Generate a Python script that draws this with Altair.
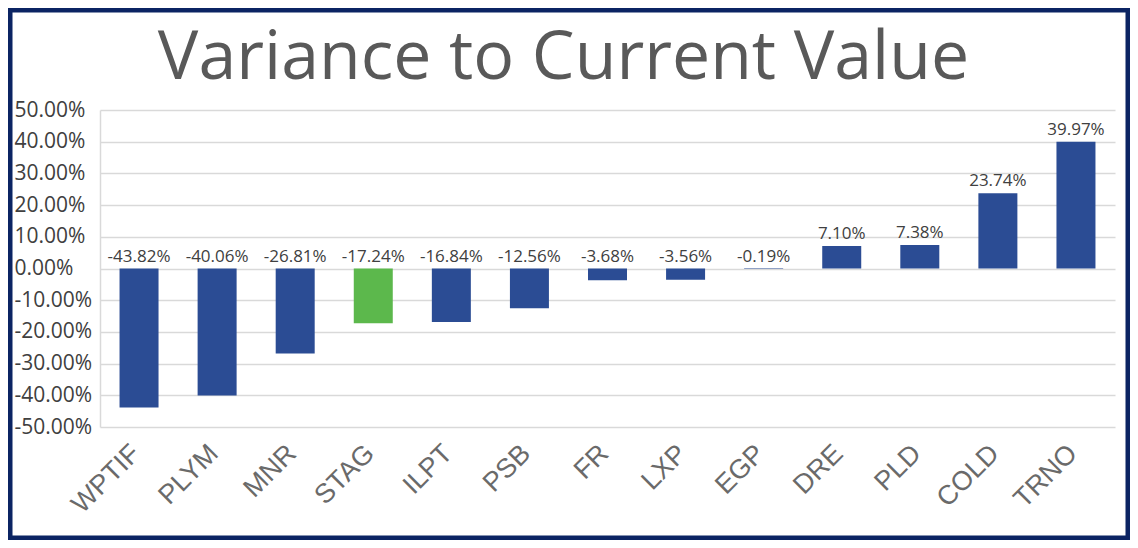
import altair as alt
import pandas as pd

tickers = ["WPTIF", "PLYM", "MNR", "STAG", "ILPT", "PSB", "FR", "LXP", "EGP", "DRE", "PLD", "COLD", "TRNO"]
variance = [-0.4382, -0.4006, -0.2681, -0.1724, -0.1684, -0.1256, -0.0368, -0.0356, -0.0019, 0.0710, 0.0738, 0.2374, 0.3997]
highlight = ["no", "no", "no", "yes", "no", "no", "no", "no", "no", "no", "no", "no", "no"]
y_ticks = [-0.5, -0.4, -0.3, -0.2, -0.1, 0.0, 0.1, 0.2, 0.3, 0.4, 0.5]
title_text = ["Variance to Current Value"]

df = pd.DataFrame({"ticker": tickers, "variance": variance, "highlight": highlight})

FONT = "Open Sans"

x_enc = alt.X(
    "ticker:N", sort=tickers, title=None,
    scale=alt.Scale(paddingInner=0.5, paddingOuter=0.25),
    axis=alt.Axis(labelAngle=-45, labelAlign="right", labelBaseline="middle",
                  labelFontSize=27, labelFont="Liberation Sans", labelColor="#6A6A6A",
                  labelPadding=22, labelOffset=-3, ticks=False, domain=False, grid=False),
)

y_scale = alt.Scale(domain=[-0.5, 0.5], nice=False, zero=False)
y_axis = alt.Axis(values=y_ticks, labelExpr="replace(format(datum.value, '.2%'), '\u2212', '-')",
                  labelFontSize=21, labelFont=FONT, labelOverlap=False, labelAlign="left",
                  labelColor="#404040", ticks=False, domain=True, domainColor="#D9D9D9",
                  domainWidth=1.5, grid=True, gridColor="#D9D9D9", gridWidth=1.5,
                  labelPadding=86)

bars = alt.Chart(df).mark_bar(size=39).encode(
    x=x_enc,
    y=alt.Y("variance:Q", title=None, scale=y_scale, axis=y_axis),
    color=alt.Color("highlight:N", scale=alt.Scale(domain=["no", "yes"], range=["#2B4C94", "#5CB84C"]), legend=None),
)

labels = alt.Chart(df).transform_calculate(
    ly="max(datum.variance, 0)",
    lbl="replace(format(datum.variance, '.2%'), '\u2212', '-')",
).mark_text(dy=-7, fontSize=17, font=FONT, color="#404040", baseline="alphabetic").encode(
    x=alt.X("ticker:N", sort=tickers),
    y=alt.Y("ly:Q", title=None, scale=y_scale, axis=y_axis),
    text=alt.Text("lbl:N"),
)

title = alt.Chart(pd.DataFrame({"t": title_text})).mark_text(
    fontSize=68, font=FONT, color="#595959", align="center", baseline="alphabetic"
).encode(x=alt.value(463.5), y=alt.value(-31), text="t:N")

border = alt.Chart(pd.DataFrame({"a": [0]})).mark_rect(
    fill=None, fillOpacity=0, stroke="#0B2463", strokeWidth=4.5
).encode(
    x=alt.value(-89.75), x2=alt.value(1027.75), y=alt.value(-99.75), y2=alt.value(427.75)
)

chart = alt.layer(bars, labels, title, border).properties(
    width=1015, height=317,
    background="white",
    autosize=alt.AutoSizeParams(type="none"),
    padding={"left": 92, "top": 102, "right": 15, "bottom": 113},
).configure_view(stroke=None).configure_axisY(labelOverlap=False)

chart.save("out.html", embed_options={"renderer": "svg", "actions": False})
